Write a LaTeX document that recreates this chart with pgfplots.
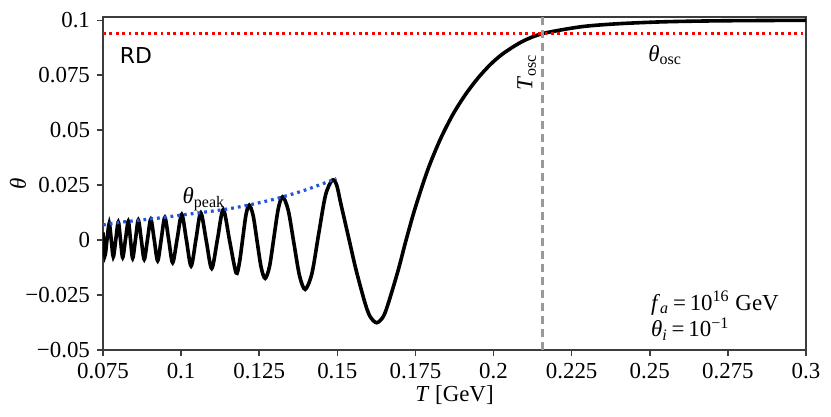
\documentclass[border=0pt]{standalone}
\usepackage{fontspec}
\setmainfont{Liberation Serif}
\newfontfamily\dejavu{DejaVu Sans}
\usepackage{pgfplots}
\pgfplotsset{compat=1.18}
\usepackage{pgfplotstable}
\definecolor{peakblue}{RGB}{35,85,220}
\definecolor{axgray}{RGB}{60,60,60}
\pgfplotstableread{
T theta
0.0750 0.0035
0.0756 -0.0071
0.0763 0.0003
0.0770 0.0076
0.07765 0.0000
0.0783 -0.0076
0.0791 0.0003
0.0799 0.0082
0.0806 0.0002
0.0813 -0.0079
0.0822 0.0004
0.0831 0.0086
0.0838 0.0002
0.0845 -0.0083
0.0854 0.0004
0.0863 0.0091
0.08725 0.0002
0.0882 -0.0088
0.08925 0.0004
0.0903 0.0095
0.0914 0.0001
0.0925 -0.0094
0.09365 0.0005
0.0948 0.0103
0.09605 0.0000
0.0973 -0.0103
0.09875 0.0007
0.1002 0.0117
0.1017 0.0000
0.1032 -0.0118
0.10475 0.0003
0.1063 0.0124
0.10805 -0.0003
0.1098 -0.0129
0.11165 0.0005
0.1135 0.0139
0.11555 -0.0005
0.1176 -0.0149
0.11865 -0.0104
0.1197 0.0005
0.12075 0.0114
0.1218 0.0159
0.12308 0.0110
0.12435 -0.0008
0.12563 -0.0125
0.1269 -0.0174
0.1283 -0.0120
0.1297 0.0012
0.1311 0.0143
0.1325 0.0197
0.1343 0.0135
0.1361 -0.0014
0.1379 -0.0162
0.1397 -0.0224
0.14188 -0.0151
0.14405 0.0030
0.14623 0.0205
0.1484 0.0273
0.1498 0.0250
0.1511 0.0167
0.1538 0.0000
0.1560 -0.0136
0.1589 -0.0288
0.1605 -0.0348
0.1626 -0.0376
0.1647 -0.0348
0.1663 -0.0288
0.1695 -0.0136
0.1720 0.0000
0.1750 0.0150
0.1790 0.0322
0.1830 0.0460
0.1870 0.0572
0.1910 0.0662
0.1950 0.0737
0.1990 0.0799
0.2030 0.0848
0.2090 0.0902
0.2156 0.0939
0.2277 0.0970
0.2383 0.0983
0.2500 0.0991
0.2600 0.0995
0.2750 0.0998
0.3000 0.1000
}\thetadata
\pgfplotstableread{
T theta
0.0750 0.0069
0.0800 0.0080
0.0863 0.0090
0.0932 0.0101
0.1002 0.0114
0.1063 0.0125
0.1146 0.0141
0.1218 0.0160
0.1306 0.0189
0.1402 0.0230
0.1497 0.0280
}\peakdata
\newcommand{\fs}{\fontsize{11.5}{13.8}\selectfont}
\begin{document}
\begin{tikzpicture}
\begin{axis}[
  scale only axis,
  width=351.5bp, height=166.5bp,
  xmin=0.075, xmax=0.3, ymin=-0.05, ymax=0.1015,
  xtick={0.075,0.1,0.125,0.15,0.175,0.2,0.225,0.25,0.275,0.3},
  xticklabels={0.075,0.1,0.125,0.15,0.175,0.2,0.225,0.25,0.275,0.3},
  ytick={-0.05,-0.025,0,0.025,0.05,0.075,0.1},
  yticklabels={−0.05,−0.025,0,0.025,0.05,0.075,0.1},
  tick align=outside,
  xtick pos=lower, ytick pos=left,
  major tick length=3bp,
  axis line style={color=axgray, line width=0.75bp},
  every tick/.style={color=axgray, line width=0.75bp},
  tick label style={font=\fs},
  label style={font=\fs},
  xlabel={\textit{T} [GeV]},
  ylabel={\textit{θ}},
  xlabel style={at={(axis description cs:0.5,0)}, anchor=center, yshift=-22.5bp},
  ylabel style={at={(axis description cs:-0.1209,0.5)}, anchor=center},
]
\addplot[black, line width=1.8bp, smooth, tension=0.5] table[x=T, y=theta] {\thetadata};
\addplot[red, line width=1.4bp, dash pattern=on 1.4bp off 1.8bp] coordinates {(0.075,0.0939) (0.3,0.0939)};
\addplot[black!40, line width=1.4bp, dash pattern=on 4bp off 2.5bp] coordinates {(0.2156,-0.05) (0.2156,0.1015)};
\addplot[peakblue, line width=1.6bp, smooth, dash pattern=on 1.4bp off 2bp] table[x=T, y=theta] {\peakdata};
\node[font=\dejavu\fontsize{11}{13}\selectfont, anchor=center] at (axis cs:0.08556,0.0841) {RD};
\node[font=\fs, anchor=center] at (axis cs:0.2549,0.0841) {\textit{θ}\textsubscript{osc}};
\node[font=\fs, anchor=center, rotate=90] at (axis cs:0.2106,0.0764) {\textit{T}\textsubscript{osc}};
\node[font=\fs, anchor=center] at (axis cs:0.1073,0.0185) {\textit{θ}\textsubscript{peak}};
\node[font=\fs, anchor=west] at (axis cs:0.2482,-0.0286) {\textit{f}\textsubscript{\textit{a}}\,=\,10\textsuperscript{16} GeV};
\node[font=\fs, anchor=west] at (axis cs:0.2482,-0.0405) {\textit{θ}\textsubscript{\textit{i}}\,=\,10\textsuperscript{−1}};
\end{axis}
\path ([xshift=-51.5bp,yshift=-33.5bp]current axis.south west) rectangle ([xshift=12.5bp,yshift=8.5bp]current axis.north east);
\end{tikzpicture}
\end{document}
